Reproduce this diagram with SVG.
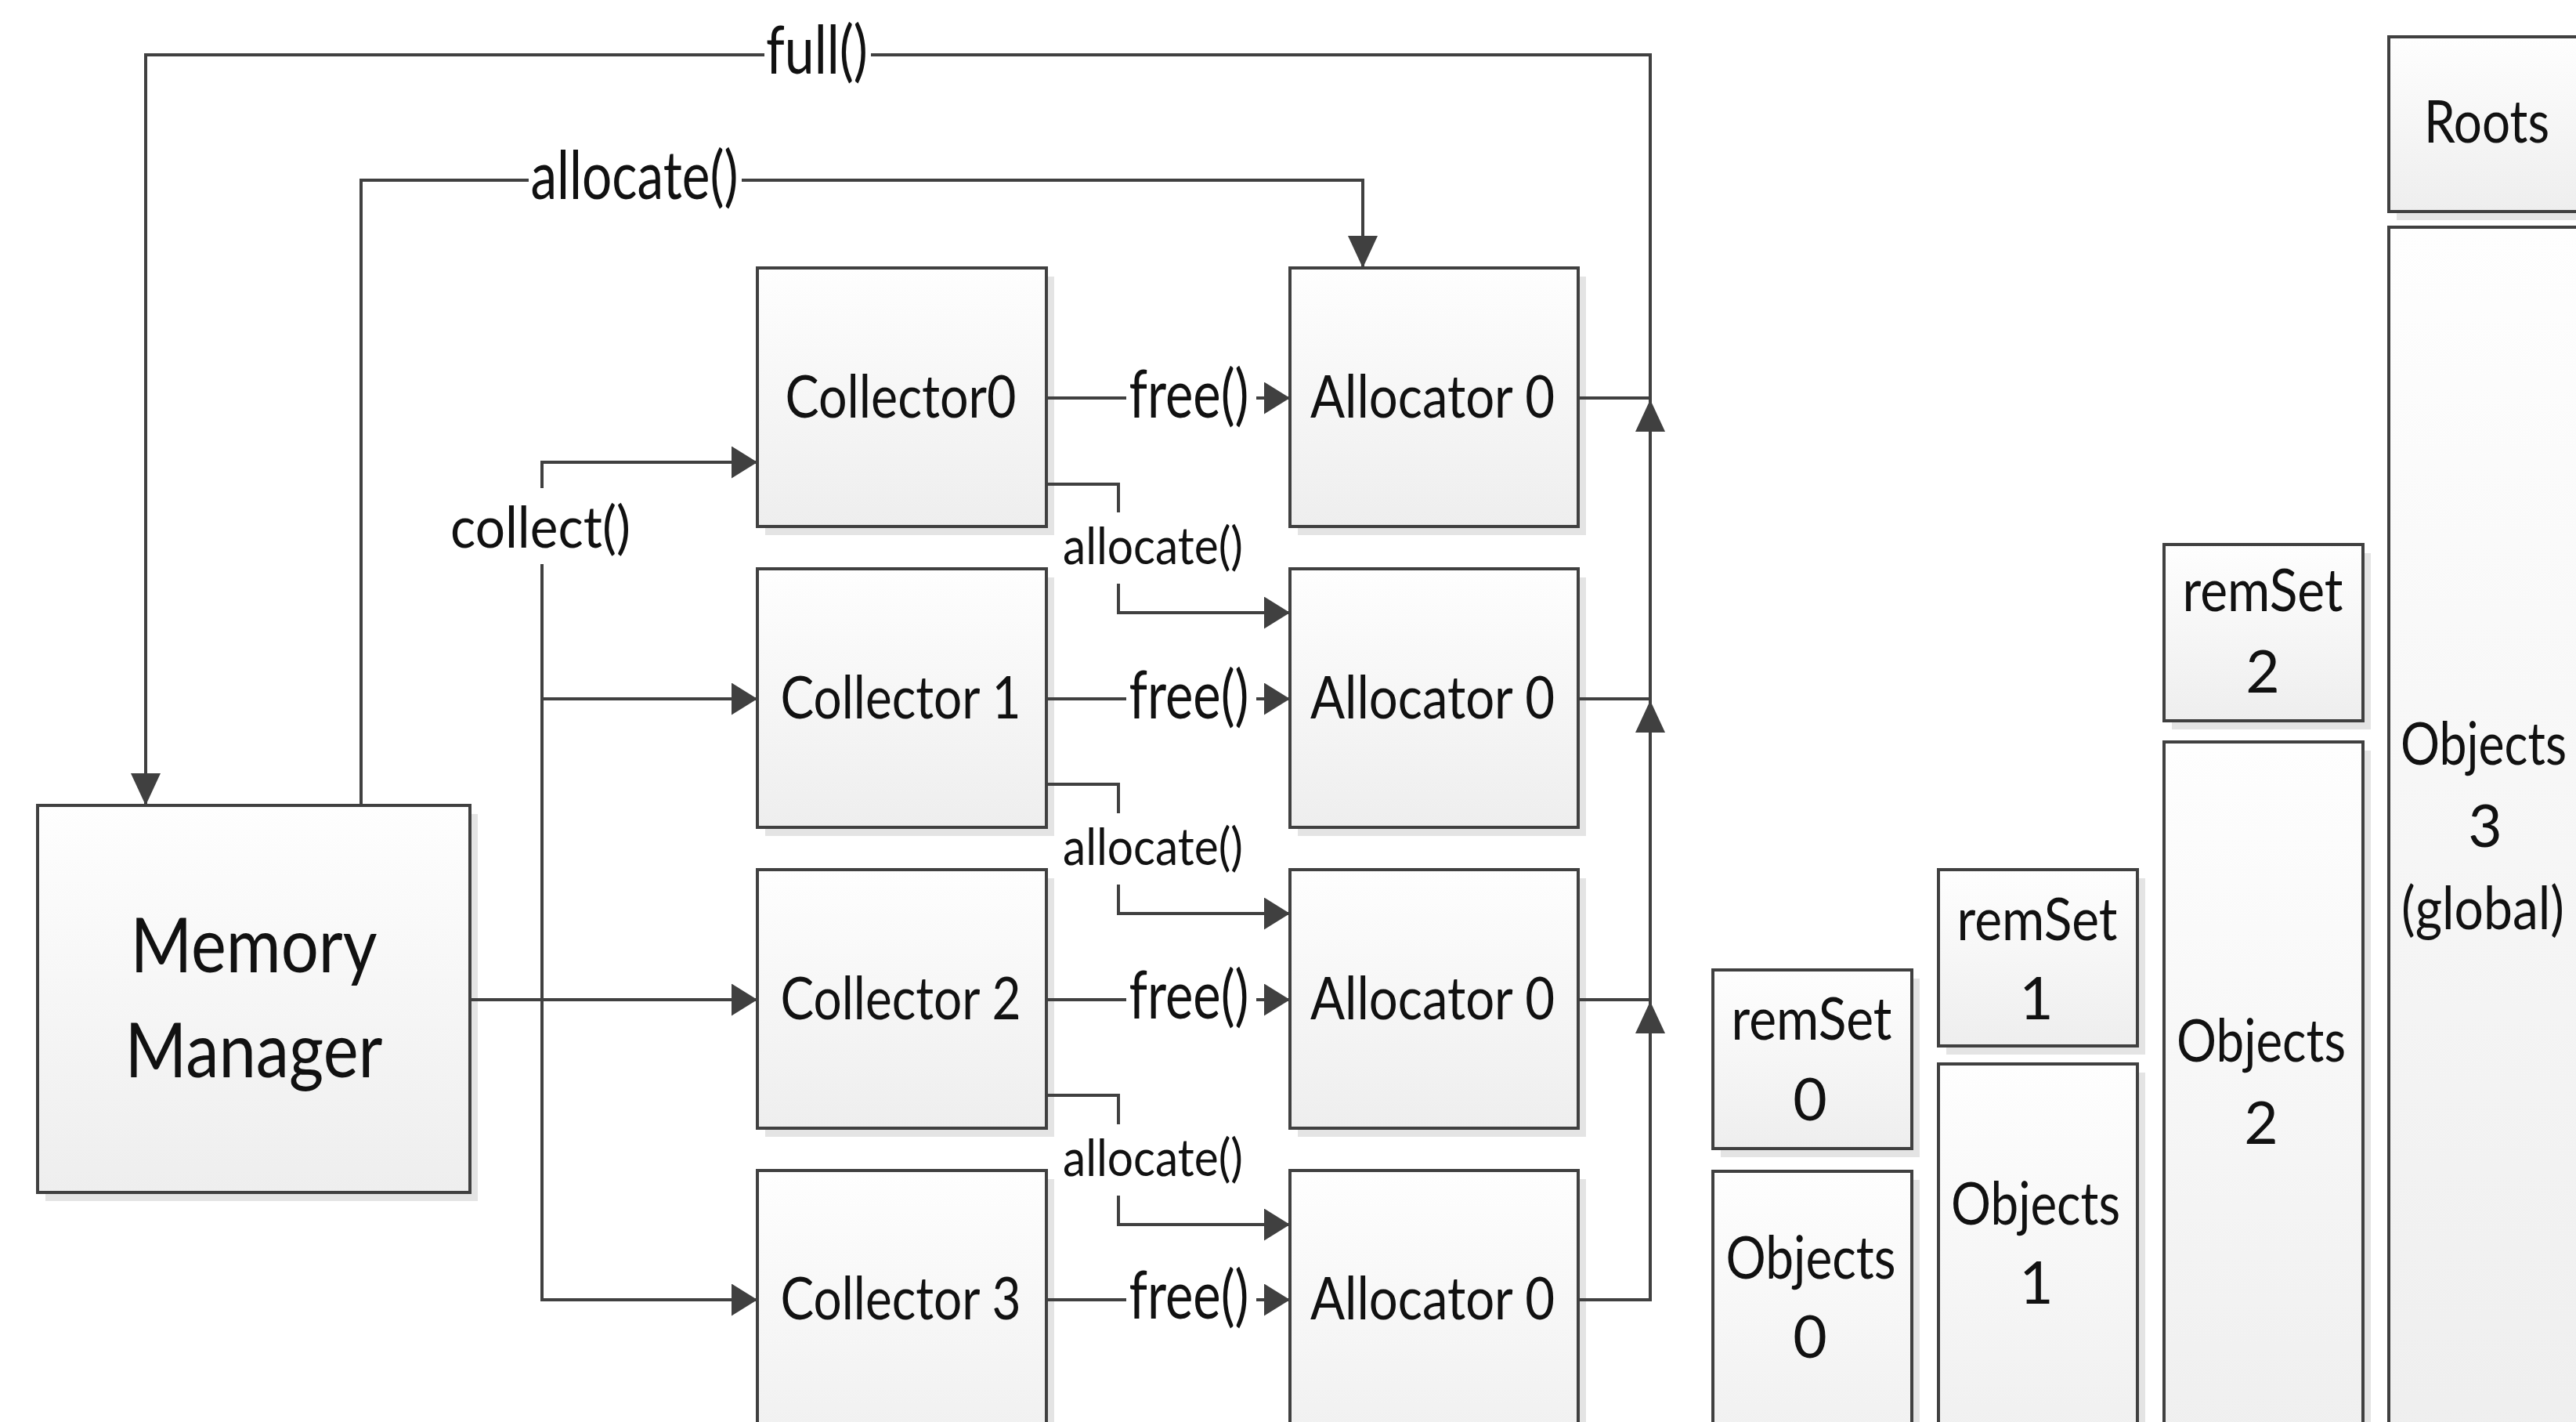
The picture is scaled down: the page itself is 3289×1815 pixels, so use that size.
<svg xmlns="http://www.w3.org/2000/svg" width="3289" height="1815" viewBox="0 0 3289 1815">
<defs>
<linearGradient id="g" x1="0" y1="0" x2="0" y2="1"><stop offset="0" stop-color="#fefefe"/><stop offset="1" stop-color="#eeeeee"/></linearGradient>
<marker id="ah" markerUnits="userSpaceOnUse" viewBox="0 0 33 41" markerWidth="33" markerHeight="41" refX="33" refY="20.5" orient="auto"><path d="M0,0 L33,20.5 L0,41 z" fill="#404040"/></marker>
<marker id="av" markerUnits="userSpaceOnUse" viewBox="0 0 41 38" markerWidth="41" markerHeight="38" refX="41" refY="19" orient="auto"><path d="M0,0 L41,19 L0,38 z" fill="#404040"/></marker>
</defs>
<style>
.box{fill:url(#g);stroke:#404040;stroke-width:4}
.sh{fill:#e4e4e4}
.t{font-family:Lato,"Liberation Sans",sans-serif;fill:#111;text-anchor:middle}
.c{fill:none;stroke:#404040;stroke-width:4}
.bg{fill:#fff}
</style>
<rect width="3289" height="1815" fill="#fff"/>

<g id="memory-manager">
<rect class="sh" x="58" y="1039" width="552" height="494"/>
<rect class="box" x="48" y="1028" width="552" height="494"/>
<text class="t" x="324" y="1241" font-size="96" textLength="315" lengthAdjust="spacingAndGlyphs">Memory</text>
<text class="t" x="324" y="1375" font-size="96" textLength="329" lengthAdjust="spacingAndGlyphs">Manager</text>
</g>

<g id="collector0">
<rect class="sh" x="977" y="353" width="369" height="330"/>
<rect class="box" x="967" y="342" width="369" height="330"/>
<text class="t" x="1150" y="533" font-size="76" textLength="295" lengthAdjust="spacingAndGlyphs">Collector0</text>
</g>
<g id="collector1">
<rect class="sh" x="977" y="737" width="369" height="330"/>
<rect class="box" x="967" y="726" width="369" height="330"/>
<text class="t" x="1150" y="917" font-size="76" textLength="307" lengthAdjust="spacingAndGlyphs">Collector 1</text>
</g>
<g id="collector2">
<rect class="sh" x="977" y="1121" width="369" height="330"/>
<rect class="box" x="967" y="1110" width="369" height="330"/>
<text class="t" x="1150" y="1301" font-size="76" textLength="307" lengthAdjust="spacingAndGlyphs">Collector 2</text>
</g>
<g id="collector3">
<rect class="sh" x="977" y="1505" width="369" height="400"/>
<rect class="box" x="967" y="1494" width="369" height="400"/>
<text class="t" x="1150" y="1684" font-size="76" textLength="307" lengthAdjust="spacingAndGlyphs">Collector 3</text>
</g>

<g id="allocator0">
<rect class="sh" x="1657" y="353" width="368" height="330"/>
<rect class="box" x="1647" y="342" width="368" height="330"/>
<text class="t" x="1829" y="533" font-size="76" textLength="312" lengthAdjust="spacingAndGlyphs">Allocator 0</text>
</g>
<g id="allocator1">
<rect class="sh" x="1657" y="737" width="368" height="330"/>
<rect class="box" x="1647" y="726" width="368" height="330"/>
<text class="t" x="1829" y="917" font-size="76" textLength="312" lengthAdjust="spacingAndGlyphs">Allocator 0</text>
</g>
<g id="allocator2">
<rect class="sh" x="1657" y="1121" width="368" height="330"/>
<rect class="box" x="1647" y="1110" width="368" height="330"/>
<text class="t" x="1829" y="1301" font-size="76" textLength="312" lengthAdjust="spacingAndGlyphs">Allocator 0</text>
</g>
<g id="allocator3">
<rect class="sh" x="1657" y="1505" width="368" height="400"/>
<rect class="box" x="1647" y="1494" width="368" height="400"/>
<text class="t" x="1829" y="1684" font-size="76" textLength="312" lengthAdjust="spacingAndGlyphs">Allocator 0</text>
</g>

<g id="remset0">
<rect class="sh" x="2197" y="1249" width="254" height="228"/>
<rect class="box" x="2187" y="1238" width="254" height="228"/>
<text class="t" x="2313" y="1327" font-size="75" textLength="205" lengthAdjust="spacingAndGlyphs">remSet</text>
<text class="t" x="2311" y="1430" font-size="75">0</text>
</g>
<g id="objects0">
<rect class="sh" x="2197" y="1506" width="254" height="400"/>
<rect class="box" x="2187" y="1495" width="254" height="400"/>
<text class="t" x="2312" y="1632" font-size="75" textLength="217" lengthAdjust="spacingAndGlyphs">Objects</text>
<text class="t" x="2311" y="1733" font-size="75">0</text>
</g>
<g id="remset1">
<rect class="sh" x="2485" y="1121" width="254" height="225"/>
<rect class="box" x="2475" y="1110" width="254" height="225"/>
<text class="t" x="2601" y="1200" font-size="75" textLength="205" lengthAdjust="spacingAndGlyphs">remSet</text>
<text class="t" x="2600" y="1301" font-size="75">1</text>
</g>
<g id="objects1">
<rect class="sh" x="2485" y="1369" width="254" height="540"/>
<rect class="box" x="2475" y="1358" width="254" height="540"/>
<text class="t" x="2599" y="1563" font-size="75" textLength="216" lengthAdjust="spacingAndGlyphs">Objects</text>
<text class="t" x="2600" y="1664" font-size="75">1</text>
</g>
<g id="remset2">
<rect class="sh" x="2773" y="706" width="254" height="225"/>
<rect class="box" x="2763" y="695" width="254" height="225"/>
<text class="t" x="2889" y="780" font-size="75" textLength="205" lengthAdjust="spacingAndGlyphs">remSet</text>
<text class="t" x="2889" y="884" font-size="75">2</text>
</g>
<g id="objects2">
<rect class="sh" x="2773" y="958" width="254" height="950"/>
<rect class="box" x="2763" y="947" width="254" height="950"/>
<text class="t" x="2887" y="1355" font-size="75" textLength="216" lengthAdjust="spacingAndGlyphs">Objects</text>
<text class="t" x="2887" y="1460" font-size="75">2</text>
</g>
<g id="roots">
<rect class="sh" x="3060" y="58" width="254" height="223"/>
<rect class="box" x="3050" y="47" width="254" height="223"/>
<text class="t" x="3175" y="182" font-size="75" textLength="160" lengthAdjust="spacingAndGlyphs">Roots</text>
</g>
<g id="objects3">
<rect class="sh" x="3060" y="301" width="254" height="1600"/>
<rect class="box" x="3050" y="290" width="254" height="1600"/>
<text class="t" x="3171" y="976" font-size="75" textLength="212" lengthAdjust="spacingAndGlyphs">Objects</text>
<text class="t" x="3173" y="1081" font-size="75">3</text>
<text class="t" x="3170" y="1186" font-size="75" textLength="208" lengthAdjust="spacingAndGlyphs">(global)</text>
</g>

<g id="connectors">
<path class="c" d="M2015,508 H2107 V70 H186 V1028" marker-end="url(#av)"/>
<path class="c" d="M2015,892 H2107 V510" marker-end="url(#av)"/>
<path class="c" d="M2015,1276 H2107 V894" marker-end="url(#av)"/>
<path class="c" d="M2015,1659 H2107 V1278" marker-end="url(#av)"/>
<path class="c" d="M461,1028 V230 H1740 V342" marker-end="url(#av)"/>
<path class="c" d="M600,1276 H967" marker-end="url(#ah)"/>
<path class="c" d="M692,1276 V590 H967" marker-end="url(#ah)"/>
<path class="c" d="M692,1276 V892 H967" marker-end="url(#ah)"/>
<path class="c" d="M692,1276 V1659 H967" marker-end="url(#ah)"/>
<path class="c" d="M1336,508 H1647" marker-end="url(#ah)"/>
<path class="c" d="M1336,892 H1647" marker-end="url(#ah)"/>
<path class="c" d="M1336,1276 H1647" marker-end="url(#ah)"/>
<path class="c" d="M1336,1659 H1647" marker-end="url(#ah)"/>
<path class="c" d="M1336,618 H1428 V782 H1647" marker-end="url(#ah)"/>
<path class="c" d="M1336,1001 H1428 V1166 H1647" marker-end="url(#ah)"/>
<path class="c" d="M1336,1398 H1428 V1563 H1647" marker-end="url(#ah)"/>
<g id="labels">
<rect class="bg" x="976" y="16" width="136" height="104"/>
<text class="t" x="1043" y="94" font-size="85" textLength="130" lengthAdjust="spacingAndGlyphs">full()</text>
<rect class="bg" x="675" y="176" width="272" height="104"/>
<text class="t" x="810" y="254" font-size="85" textLength="265" lengthAdjust="spacingAndGlyphs">allocate()</text>
<rect class="bg" x="570" y="623" width="240" height="97"/>
<text class="t" x="690" y="699" font-size="73" textLength="230" lengthAdjust="spacingAndGlyphs">collect()</text>
<rect class="bg" x="1438" y="452" width="166" height="108"/>
<text class="t" x="1518" y="533" font-size="85" textLength="153" lengthAdjust="spacingAndGlyphs">free()</text>
<rect class="bg" x="1438" y="836" width="166" height="108"/>
<text class="t" x="1518" y="917" font-size="85" textLength="153" lengthAdjust="spacingAndGlyphs">free()</text>
<rect class="bg" x="1438" y="1220" width="166" height="108"/>
<text class="t" x="1518" y="1300" font-size="85" textLength="153" lengthAdjust="spacingAndGlyphs">free()</text>
<rect class="bg" x="1438" y="1603" width="166" height="108"/>
<text class="t" x="1518" y="1683" font-size="85" textLength="153" lengthAdjust="spacingAndGlyphs">free()</text>
<rect class="bg" x="1354" y="654" width="236" height="91"/>
<text class="t" x="1472" y="720" font-size="65" textLength="230" lengthAdjust="spacingAndGlyphs">allocate()</text>
<rect class="bg" x="1354" y="1038" width="236" height="91"/>
<text class="t" x="1472" y="1104" font-size="65" textLength="230" lengthAdjust="spacingAndGlyphs">allocate()</text>
<rect class="bg" x="1354" y="1435" width="236" height="91"/>
<text class="t" x="1472" y="1501" font-size="65" textLength="230" lengthAdjust="spacingAndGlyphs">allocate()</text>
</g>
</g>
</svg>
